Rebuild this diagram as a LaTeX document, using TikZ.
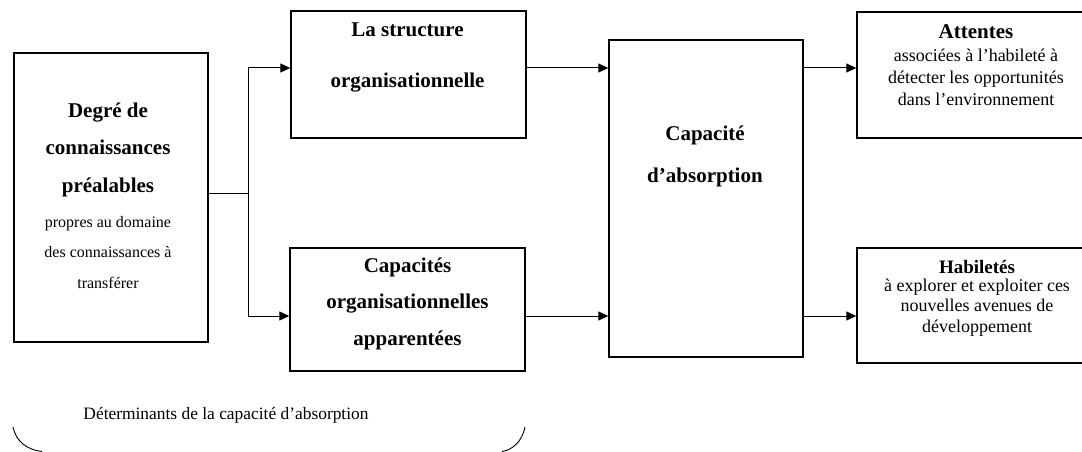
\documentclass[tikz,border=0pt]{standalone}
\usepackage{fontspec}
\setmainfont{Liberation Serif}
\usetikzlibrary{arrows.meta, positioning}

\begin{document}
\begin{tikzpicture}[x=1pt, y=-1pt]
	\tikzstyle{box} = [rectangle, draw=black, line width=1.4pt, inner sep=0pt]
	\tikzstyle{titre} = [align=center, inner sep=0pt, font=\fontsize{21}{37.5}\selectfont\bfseries]
	\tikzstyle{texte} = [align=center, inner sep=0pt, font=\fontsize{18}{22}\selectfont]
	\tikzstyle{arrow} = [line width=1pt, -{Triangle[length=10pt, width=9pt]}]
	
	\useasboundingbox (0,0) rectangle (1082,452);
	\clip (0,0) rectangle (1082,452);
	
	% boites
	\node (deg) [box, minimum width=194pt, minimum height=289pt] at (111,197.5) {};
	\node (struct) [box, minimum width=235pt, minimum height=127pt] at (408.5,74.5) {};
	\node (capa) [box, minimum width=235pt, minimum height=123pt] at (407.5,309.5) {};
	\node (absorb) [box, minimum width=194pt, minimum height=317pt] at (706,198.5) {};
	\node (att) [box, minimum width=240pt, minimum height=126pt] at (977,75) {};
	\node (hab) [box, minimum width=240pt, minimum height=115pt] at (977,305.5) {};
	
	% textes
	\node (degT) [titre] at (108,149.5) {Degré de\\connaissances\\préalables};
	\node (degS) [texte, font=\fontsize{16}{30.5}\selectfont] at (108,252.5) {propres au domaine\\des connaissances à\\transférer};
	\node (structT) [titre, font=\fontsize{21}{51}\selectfont\bfseries] at (407.5,57.5) {La structure\\organisationnelle};
	\node (capaT) [titre, font=\fontsize{21}{36.5}\selectfont\bfseries] at (407.5,303.5) {Capacités\\organisationnelles\\apparentées};
	\node (absorbT) [titre, font=\fontsize{21}{42}\selectfont\bfseries] at (705,156) {Capacité\\d’absorption};
	\node (attT) [titre] at (976,32) {Attentes};
	\node (attS) [texte] at (976,77) {associées à l'habileté à\\détecter les opportunités\\dans l'environnement};
	\node (habT) [titre, font=\fontsize{19}{22}\selectfont\bfseries] at (977,267) {Habiletés};
	\node (habS) [texte, font=\fontsize{18}{20.5}\selectfont] at (977,307.5) {à explorer et exploiter ces\\nouvelles avenues de\\développement};
	\node (det) [texte, font=\fontsize{17.4}{20}\selectfont] at (226,415) {Déterminants de la capacité d’absorption};
	
	% connecteurs
	\coordinate (rowA) at (0,68);
	\coordinate (rowB) at (0,316);
	\coordinate (split) at (248,193);
	\draw [line width=1pt] (deg.east |- split) -- (split);
	\draw [arrow] (split) |- (struct.west |- rowA);
	\draw [arrow] (split) |- (capa.west |- rowB);
	\draw [arrow] (struct.east |- rowA) -- (absorb.west |- rowA);
	\draw [arrow] (capa.east |- rowB) -- (absorb.west |- rowB);
	\draw [arrow] (absorb.east |- rowA) -- (att.west |- rowA);
	\draw [arrow] (absorb.east |- rowB) -- (hab.west |- rowB);
	
	% accolade du bas
	\draw [line width=0.9pt] (13,427) .. controls (16,442) and (28,450) .. (42,451.5)
		(525,427) .. controls (522,442) and (512,450) .. (502,451.5);
\end{tikzpicture}
\end{document}
